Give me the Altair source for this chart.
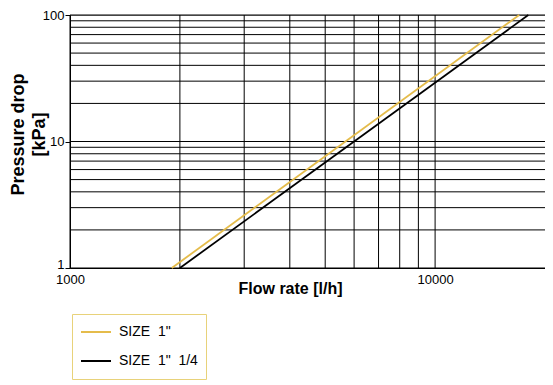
import altair as alt
import pandas as pd

# ---- data ----
series = ['SIZE\u00a0 1"', 'SIZE\u00a0 1"\u00a0 1/4']
flow_size1 = [1900, 17000]
dp_size1 = [1, 100]
flow_size114 = [2000, 18000]
dp_size114 = [1, 100]

x_grid = [1000, 2000, 3000, 4000, 5000, 6000, 7000, 8000, 9000, 10000]
y_grid = [1, 2, 3, 4, 5, 6, 7, 8, 9, 10, 20, 30, 40, 50, 60, 70, 80, 90, 100]
x_labels = [1000, 10000]
y_labels = [1, 10, 100]
colors = ["#E5BC4B", "#000000"]

lines = pd.DataFrame({
    "flow": flow_size1 + flow_size114,
    "dp": dp_size1 + dp_size114,
    "series": [series[0]] * len(flow_size1) + [series[1]] * len(flow_size114),
})
gx = pd.DataFrame({"flow": x_grid})
gy = pd.DataFrame({"dp": y_grid})

FONT = "Liberation Sans"

xscale = alt.Scale(type="log", domain=[1000, 20000], nice=False)
yscale = alt.Scale(type="log", domain=[1, 100], nice=False)

xaxis = alt.Axis(values=x_labels, format="d", grid=False, labelFlush=False,
                 title="Flow rate [l/h]", tickSize=0, labelPadding=5,
                 titleX=220, titleY=12, titleBaseline="top")
yaxis = alt.Axis(values=y_labels, format="d", grid=False, labelFlush=False,
                 labelBaseline={"condition": {"test": "datum.value == 1", "value": "alphabetic"},
                                "value": "middle"},
                 title=["Pressure drop", "[kPa]"], tickSize=5,
                 labelPadding=1, titleX=-43, titleY=119,
                 titleBaseline="bottom", titleLineHeight=21,
                 titleFontSize=18)

vgrid = alt.Chart(gx).mark_rule(color="#000000", strokeWidth=1).encode(
    x=alt.X("flow:Q", scale=xscale, axis=xaxis)
)
hgrid = alt.Chart(gy).mark_rule(color="#000000", strokeWidth=1).encode(
    y=alt.Y("dp:Q", scale=yscale, axis=yaxis)
)

curves = alt.Chart(lines).mark_line(strokeWidth=1.8).encode(
    x=alt.X("flow:Q", scale=xscale, axis=xaxis),
    y=alt.Y("dp:Q", scale=yscale, axis=yaxis),
    color=alt.Color("series:N", sort=series,
                    scale=alt.Scale(domain=series, range=colors),
                    legend=alt.Legend(title=None, orient="none", legendX=2, legendY=299,
                                      symbolType="stroke", symbolSize=900,
                                      symbolStrokeWidth=2, clipHeight=20,
                                      padding=8, rowPadding=9, labelOffset=7,
                                      strokeColor="#E8D27A", labelFontSize=14,
                                      labelFont=FONT, labelColor="#000000")),
    order=alt.Order("flow:Q"),
)

chart = alt.layer(vgrid, hgrid, curves).properties(
    width=475, height=253,
    autosize=alt.AutoSizeParams(type="none"),
    padding={"left": 62, "top": 7, "right": 0, "bottom": 115},
).configure_view(
    stroke="#888888", strokeWidth=1
).configure_axis(
    labelFont=FONT, labelFontSize=13, labelColor="#000000",
    titleFont=FONT, titleFontSize=16, titleFontWeight="bold", titleColor="#000000",
    domainColor="#000000", tickColor="#000000",
)

chart.save("out.html", embed_options={"renderer": "svg", "actions": False})
